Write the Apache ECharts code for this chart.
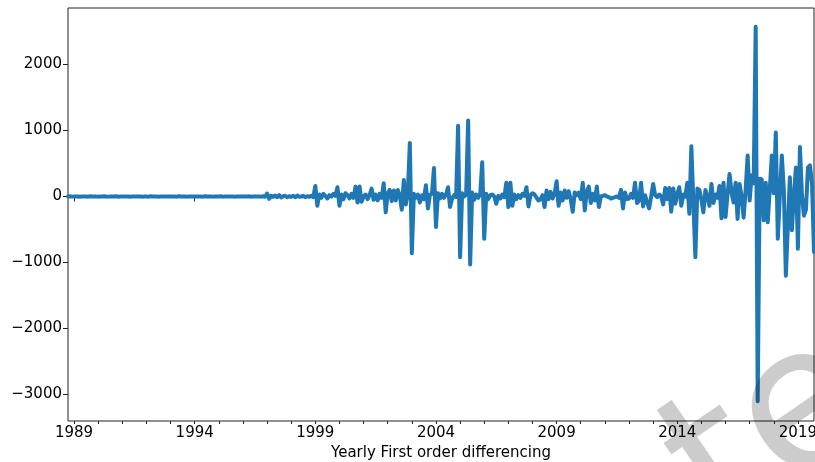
<!DOCTYPE html>
<html>
<head>
<meta charset="utf-8">
<script src="https://cdn.jsdelivr.net/npm/echarts@6/dist/echarts.min.js"></script>
<style>
  html, body { margin: 0; padding: 0; background: #fff; }
  #chart { width: 815px; height: 462px; }
</style>
</head>
<body>
<div id="chart"></div>
<script>
// monthly values, first point is Oct 1988
const startYear = 1988.75;
const y1988 = [0, 3, -2];
const y1989 = [2, -1, 1, -3, 2, 0, 1, -2, 3, -1, 0, 2];
const y1990 = [-2, 1, 0, 3, -1, -2, 2, 0, -1, 3, -2, 1];
const y1991 = [0, -1, 2, 1, -3, 2, 0, -1, 1, 2, -2, 0];
const y1992 = [1, -2, 3, -1, 0, 2, -3, 1, 2, -1, 0, 1];
const y1993 = [-1, 2, 0, -2, 3, -1, 1, 0, -2, 2, 1, -1];
const y1994 = [2, 0, -1, 1, -2, 3, 0, -1, 2, -2, 1, 0];
const y1995 = [-1, 3, -2, 0, 1, -1, 2, 0, -3, 2, 1, -1];
const y1996 = [0, 2, -1, 3, -2, 1, 0, -1, 2, -2, 4, -3];
const y1997 = [45, -35, 10, -5, 15, -10, 20, -15, 5, 10, -10, 5];
const y1998 = [-5, 10, -10, 15, -5, 0, 10, -10, 5, -5, 10, -10];
const y1999 = [160, -140, 30, -20, 40, 10, -30, 20, 0, 40, 10, 140];
const y2000 = [-140, 30, -40, 50, 20, -30, 40, -20, 150, -90, 150, -80];
const y2001 = [0, 30, -40, 20, 120, -50, 30, -60, 40, -20, 200, -240];
const y2002 = [50, 100, -70, 90, -60, 100, 20, -200, 250, -120, 60, 810];
const y2003 = [-860, 40, -20, 30, -90, 20, -40, 170, -180, 30, 40, 430];
const y2004 = [-460, 50, -30, 40, -20, 30, 140, -160, -30, 20, -10, 1070];
const y2005 = [-920, 50, 0, 30, 1150, -1030, 60, -50, 30, -20, 40, 520];
const y2006 = [-640, 40, -40, 20, 30, 0, -110, 10, -30, 30, -10, 210];
const y2007 = [-160, 210, -140, 30, -40, 20, -20, 40, 10, 140, -150, 20];
const y2008 = [50, 30, -20, -60, -40, 20, -160, 90, -40, 70, -30, 40];
const y2009 = [230, -140, 60, -60, 90, -20, 80, -40, -230, 60, 20, 60];
const y2010 = [-40, 210, -210, 80, 150, -100, 40, -60, 150, -160, 0, 10];
const y2011 = [20, 0, -10, -30, -20, -10, 0, -20, 100, -180, 60, -40];
const y2012 = [-30, 40, -20, 210, -100, -60, 210, -150, 20, -90, -180, 0];
const y2013 = [190, 20, -10, 30, 0, -120, 130, -40, 130, -230, 120, -110];
const y2014 = [40, 140, -140, 30, 0, 210, -260, 760, -80, -920, 120, 100];
const y2015 = [-50, -240, 100, 0, -140, 190, -100, 30, -20, 160, -330, 210];
const y2016 = [-310, 30, 340, 60, -90, 210, -340, 190, 0, -320, 100, 620];
const y2017 = [-60, 320, 200, 2570, -3100, 270, 260, -360, 210, -390, 100, 620];
const y2018 = [50, 970, -640, 0, 620, 100, -1200, -450, 290, -510, 0, 440];
const y2019 = [-790, 750, 30, -290, -200, 440, 470, 200, -840];

const majorTicks = [1989, 1994, 1999, 2004, 2009, 2014, 2019];
const minorTicks = [];
for (let y = 1989; y <= 2019; y++) minorTicks.push(y);
const yTicks = [-3000, -2000, -1000, 0, 1000, 2000];

const values = [].concat(y1988, y1989, y1990, y1991, y1992, y1993, y1994, y1995,
  y1996, y1997, y1998, y1999, y2000, y2001, y2002, y2003, y2004, y2005, y2006,
  y2007, y2008, y2009, y2010, y2011, y2012, y2013, y2014, y2015, y2016, y2017,
  y2018, y2019);
const points = values.map((v, i) => [startYear + i / 12, v]);
const endYear = points[points.length - 1][0];

const font = 'DejaVu Sans';
const chart = echarts.init(document.getElementById('chart'), null, { renderer: 'canvas' });

chart.setOption({
  animation: false,
  backgroundColor: '#fff',
  grid: {
    left: 68, right: 1, top: 8, bottom: 41,
    outerBoundsMode: 'none',
    containLabel: false,
    show: true, borderColor: '#222', borderWidth: 1
  },
  xAxis: [{
    type: 'value',
    min: startYear, max: endYear,
    name: 'Yearly First order differencing',
    nameLocation: 'middle',
    nameGap: 24,
    nameTextStyle: { fontFamily: font, fontSize: 15, color: '#000' },
    axisLine: { show: false },
    splitLine: { show: false },
    axisTick: { show: true, length: 5, lineStyle: { color: '#222' }, customValues: majorTicks },
    axisLabel: { fontFamily: font, fontSize: 15, color: '#000', margin: 5, customValues: majorTicks,
      formatter: v => String(v) }
  }, {
    // yearly minor ticks
    type: 'value',
    position: 'bottom',
    min: startYear, max: endYear,
    axisLine: { show: false },
    splitLine: { show: false },
    axisLabel: { show: false },
    axisTick: { show: true, length: 3, lineStyle: { color: '#222' }, customValues: minorTicks }
  }],
  yAxis: {
    type: 'value',
    min: -3400, max: 2855,
    axisLine: { show: false },
    splitLine: { show: false },
    axisTick: { show: true, length: 5, lineStyle: { color: '#222' }, customValues: yTicks },
    axisLabel: { fontFamily: font, fontSize: 15, color: '#000', margin: 6, customValues: yTicks,
      formatter: v => v < 0 ? '\u2212' + Math.abs(v) : String(v) }
  },
  series: [{
    type: 'line',
    xAxisIndex: 0,
    data: points,
    showSymbol: false,
    symbol: 'none',
    lineStyle: { color: '#1f77b4', width: 4, join: 'round', cap: 'round' }
  }],
  graphic: [{
    type: 'text',
    x: 748, y: 576,
    rotation: 0.6,
    z: 100,
    silent: true,
    style: {
      text: 'te',
      font: '200px "DejaVu Sans"',
      fill: 'rgba(0,0,0,0.2)',
      textAlign: 'left',
      textVerticalAlign: 'bottom'
    }
  }]
});
</script>
</body>
</html>
